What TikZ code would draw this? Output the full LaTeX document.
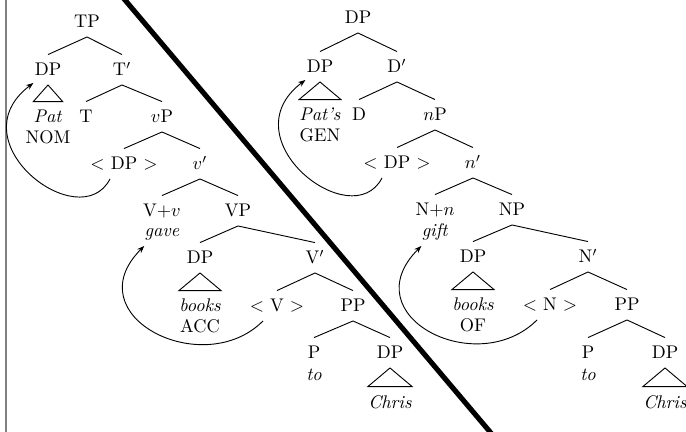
\documentclass[tikz,border=0pt]{standalone}
\usetikzlibrary{arrows.meta}
\begin{document}
\begin{tikzpicture}[x=0.546pt,y=-0.546pt,
  lab/.style={anchor=base,inner xsep=0pt,inner ysep=2.1pt,text height=9.4pt,text depth=2.6pt},
  edge/.style={line width=0.5pt},
  roof/.style={line width=0.5pt},
  mv/.style={line width=0.5pt,-{Stealth[length=4pt,width=3pt]}}]
\useasboundingbox (0,0) rectangle (686,432);
\clip (0,0) rectangle (686,432);
% frame line and divider
\draw[gray,line width=1.1pt] (6.2,-5) -- (6.2,440);
\draw[line width=2.8pt] (108.1,-20) -- (507,452);
% ---------- left tree ----------
\node[lab] (tp) at (87,28) {TP};
\node[lab] (ldp) at (48,76) {DP};
\node[lab] (ltbar) at (122,76) {T$'$};
\node[lab] (lpat) at (48,123) {\textit{Pat}};
\node[lab] (lnom) at (48,144) {NOM};
\node[lab] (lt) at (86,123) {T};
\node[lab] (lvp) at (162,123) {$v$P};
\node[lab] (ltr1) at (124,170) {$<$ DP $>$};
\node[lab] (lvbar) at (200,170) {$v'$};
\node[lab] (lvv) at (162,217) {V+$v$};
\node[lab] (lgave) at (162,237) {\textit{gave}};
\node[lab] (lVP) at (238,217) {VP};
\node[lab] (ldp2) at (200,264) {DP};
\node[lab] (lVbar) at (315,264) {V$'$};
\node[lab] (lbooks) at (200,312) {\textit{books}};
\node[lab] (lacc) at (200,333) {ACC};
\node[lab] (ltr2) at (277,312) {$<$ V $>$};
\node[lab] (lpp) at (353,312) {PP};
\node[lab] (lp) at (314,359) {P};
\node[lab] (lto) at (314,381) {\textit{to}};
\node[lab] (ldp3) at (390,359) {DP};
\node[lab] (lchris) at (390,408) {\textit{Chris}};
\foreach \a/\b in {tp/ldp,tp/ltbar,ltbar/lt,ltbar/lvp,lvp/ltr1,lvp/lvbar,lvbar/lvv,lvbar/lVP,lVP/ldp2,lVP/lVbar,lVbar/ltr2,lVbar/lpp,lpp/lp,lpp/ldp3}
  \draw[edge] (\a.south) -- (\b.north);
\foreach \a/\b in {ldp/lpat,ldp2/lbooks,ldp3/lchris}
  \draw[roof] (\a.south) -- (\b.north west) -- (\b.north east) -- cycle;
\draw[mv] ([shift={(-14,0)}]ltr1.south) .. controls +(-30,58) and +(-78,59) .. ([shift={(-1,-2)}]ldp.south west);
\draw[mv] ([shift={(-14,0)}]ltr2.south) .. controls +(-60,60) and +(-70,70) .. (lgave.south west);
% ---------- right tree ----------
\node[lab] (rtop) at (358,24) {DP};
\node[lab] (rdp) at (320,73) {DP};
\node[lab] (rdbar) at (397,73) {D$'$};
\node[lab] (rpats) at (320,121) {\textit{Pat's}};
\node[lab] (rgen) at (320,142) {GEN};
\node[lab] (rd) at (359,121) {D};
\node[lab] (rnp) at (435,121) {$n$P};
\node[lab] (rtr1) at (397,169) {$<$ DP $>$};
\node[lab] (rnbar) at (473,169) {$n'$};
\node[lab] (rnn) at (435,216) {N+$n$};
\node[lab] (rgift) at (435,237) {\textit{gift}};
\node[lab] (rNP) at (512,216) {NP};
\node[lab] (rdp2) at (473,263) {DP};
\node[lab] (rNbar) at (588,263) {N$'$};
\node[lab] (rbooks) at (473,311) {\textit{books}};
\node[lab] (rof) at (473,332) {OF};
\node[lab] (rtr2) at (550,311) {$<$ N $>$};
\node[lab] (rpp) at (627,311) {PP};
\node[lab] (rp) at (588,359) {P};
\node[lab] (rto) at (588,381) {\textit{to}};
\node[lab] (rdp3) at (665,359) {DP};
\node[lab] (rchris) at (665,408) {\textit{Chris}};
\foreach \a/\b in {rtop/rdp,rtop/rdbar,rdbar/rd,rdbar/rnp,rnp/rtr1,rnp/rnbar,rnbar/rnn,rnbar/rNP,rNP/rdp2,rNP/rNbar,rNbar/rtr2,rNbar/rpp,rpp/rp,rpp/rdp3}
  \draw[edge] (\a.south) -- (\b.north);
\foreach \a/\b in {rdp/rpats,rdp2/rbooks,rdp3/rchris}
  \draw[roof] (\a.south) -- (\b.north west) -- (\b.north east) -- cycle;
\draw[mv] ([shift={(-15,0)}]rtr1.south) .. controls +(-30,58) and +(-78,59) .. ([shift={(-1,-2)}]rdp.south west);
\draw[mv] ([shift={(-13,0)}]rtr2.south) .. controls +(-60,60) and +(-70,70) .. (rgift.south west);
\end{tikzpicture}
\end{document}
